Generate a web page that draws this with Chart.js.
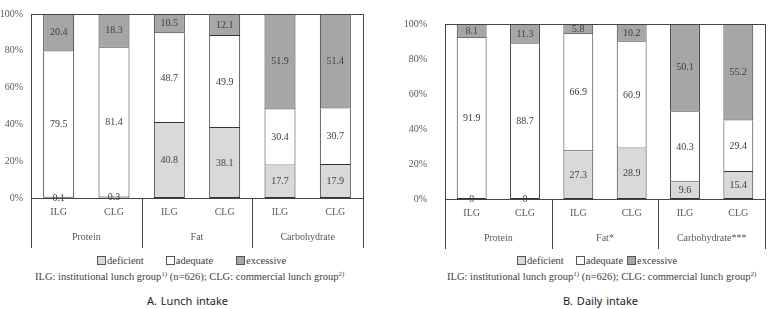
<!DOCTYPE html>
<html>
<head>
<meta charset="utf-8">
<script src="https://cdn.jsdelivr.net/npm/chart.js@4.4.1/dist/chart.umd.min.js"></script>
<style>
  body { margin: 0; width: 781px; height: 309px; background: #fff; position: relative; overflow: hidden; }
  canvas { position: absolute; top: 0; }
  #chartA { left: 0; }
  #chartB { left: 390px; }
  .legend, .note, .title { position: absolute; white-space: nowrap; color: #404040; }
  .legend { font: 10.5px "Liberation Serif", serif; top: 255px; display: flex; align-items: center; }
  .legend span { display: inline-flex; align-items: center; }
  .legend i { display: inline-block; width: 7px; height: 7px; border: 1px solid #555; margin-right: 1px; }
  .note { font: 10.5px "Liberation Serif", serif; top: 271px; }
  .note sup { font-size: 7px; vertical-align: 4px; line-height: 0; }
  .title { font: 11px "Noto Sans", sans-serif; color: #222; top: 293px; word-spacing: 1px; }
</style>
</head>
<body>
<canvas id="chartA" width="390" height="250"></canvas>
<canvas id="chartB" width="391" height="251"></canvas>

<div class="legend" id="legendA" style="left:97px"></div>
<div class="legend" id="legendB" style="left:517px"></div>

<div class="note" style="left:35px">ILG: institutional lunch group<sup>1)</sup> (n=626); CLG: commercial lunch group<sup>2)</sup></div>
<div class="note" style="left:447px">ILG: institutional lunch group<sup>1)</sup> (n=626); CLG: commercial lunch group<sup>2)</sup></div>

<div class="title" style="left:147px">A. Lunch intake</div>
<div class="title" style="left:563px">B. Daily intake</div>

<script>
// -----------------------
// Data
// -----------------------
const categories = ['ILG', 'CLG', 'ILG', 'CLG', 'ILG', 'CLG'];
const lunchGroups = ['Protein', 'Fat', 'Carbohydrate'];
const dailyGroups = ['Protein', 'Fat*', 'Carbohydrate***'];
const yTickLabels = ['0%', '20%', '40%', '60%', '80%', '100%'];
const seriesNames = ['deficient', 'adequate', 'excessive'];
const seriesColors = ['#d9d9d9', '#ffffff', '#a6a6a6'];

const lunchDeficient = [0.1, 0.3, 40.8, 38.1, 17.7, 17.9];
const lunchAdequate = [79.5, 81.4, 48.7, 49.9, 30.4, 30.7];
const lunchExcessive = [20.4, 18.3, 10.5, 12.1, 51.9, 51.4];

const dailyDeficient = [0, 0, 27.3, 28.9, 9.6, 15.4];
const dailyAdequate = [91.9, 88.7, 66.9, 60.9, 40.3, 29.4];
const dailyExcessive = [8.1, 11.3, 5.8, 10.2, 50.1, 55.2];

const serif = '"Liberation Serif", "Times New Roman", serif';

// -----------------------
// Plugins
// -----------------------
const valueLabels = {
  id: 'valueLabels',
  afterDatasetsDraw(chart) {
    const ctx = chart.ctx;
    ctx.save();
    ctx.font = '10px ' + serif;
    ctx.fillStyle = '#404040';
    ctx.textAlign = 'center';
    ctx.textBaseline = 'middle';
    chart.data.datasets.forEach((ds, i) => {
      chart.getDatasetMeta(i).data.forEach((bar, j) => {
        ctx.fillText(String(ds.data[j]), bar.x, (bar.y + bar.base) / 2);
      });
    });
    ctx.restore();
  }
};

const groupAxis = {
  id: 'groupAxis',
  afterDraw(chart, args, opts) {
    const { ctx, chartArea: a, scales: { x } } = chart;
    const groups = opts.labels || [];
    const per = categories.length / groups.length;
    ctx.save();
    ctx.strokeStyle = '#444';
    ctx.lineWidth = 1;

    // top and right frame
    ctx.beginPath();
    ctx.moveTo(a.left, Math.round(a.top) + 0.5);
    ctx.lineTo(Math.round(a.right) + 0.5, Math.round(a.top) + 0.5);
    ctx.lineTo(Math.round(a.right) + 0.5, Math.round(a.bottom));
    ctx.stroke();

    // group separators under the axis
    const edges = [a.left];
    for (let g = 1; g < groups.length; g++) {
      edges.push((x.getPixelForValue(g * per - 1) + x.getPixelForValue(g * per)) / 2);
    }
    edges.push(a.right);
    ctx.beginPath();
    edges.forEach(px => {
      const xx = Math.round(px) + 0.5;
      ctx.moveTo(xx, x.top);
      ctx.lineTo(xx, x.bottom);
    });
    ctx.stroke();

    ctx.font = '10px ' + serif;
    ctx.fillStyle = '#595959';
    ctx.textAlign = 'center';
    ctx.textBaseline = 'middle';
    groups.forEach((g, i) => {
      ctx.fillText(g, (edges[i] + edges[i + 1]) / 2, x.top + 39);
    });
    ctx.restore();
  }
};

// -----------------------
// Charts
// -----------------------
function makeChart(id, values, groups, yWidth, yPad, pad) {
  return new Chart(document.getElementById(id), {
    type: 'bar',
    data: {
      labels: categories,
      datasets: seriesNames.map((name, i) => ({
        label: name,
        data: values[i],
        backgroundColor: seriesColors[i]
      }))
    },
    options: {
      responsive: false,
      animation: false,
      layout: { padding: pad },
      datasets: {
        bar: {
          borderColor: '#333',
          borderWidth: 1,
          borderSkipped: 'top',
          barPercentage: 0.56,
          categoryPercentage: 1
        }
      },
      plugins: {
        legend: { display: false },
        tooltip: { enabled: false },
        groupAxis: { labels: groups }
      },
      scales: {
        x: {
          stacked: true,
          grid: { display: false, drawTicks: false },
          border: { color: '#444' },
          ticks: { font: { family: serif, size: 10 }, color: '#595959', padding: 8 },
          afterFit: s => { s.height = 50; }
        },
        y: {
          stacked: true,
          min: 0,
          max: 100,
          grid: { display: false, drawTicks: false },
          border: { color: '#444' },
          ticks: {
            stepSize: 20,
            font: { family: serif, size: 10 },
            color: '#595959',
            padding: yPad,
            callback: (v, i) => yTickLabels[i]
          },
          afterFit: s => { s.width = yWidth; }
        }
      }
    },
    plugins: [valueLabels, groupAxis]
  });
}

function buildLegend(id, gaps) {
  const el = document.getElementById(id);
  seriesNames.forEach((name, i) => {
    const s = document.createElement('span');
    s.innerHTML = `<i style="background:${seriesColors[i]}"></i>${name}`;
    if (i < seriesNames.length - 1) s.style.marginRight = gaps[i] + 'px';
    el.appendChild(s);
  });
}

document.addEventListener('DOMContentLoaded', () => {
  makeChart('chartA', [lunchDeficient, lunchAdequate, lunchExcessive], lunchGroups, 31, 8,
    { top: 8, right: 27, bottom: 2, left: 0 });
  makeChart('chartB', [dailyDeficient, dailyAdequate, dailyExcessive], dailyGroups, 55, 18,
    { top: 9, right: 16, bottom: 2, left: 0 });
  buildLegend('legendA', [22, 23]);
  buildLegend('legendB', [12, 4]);
});
</script>
</body>
</html>
